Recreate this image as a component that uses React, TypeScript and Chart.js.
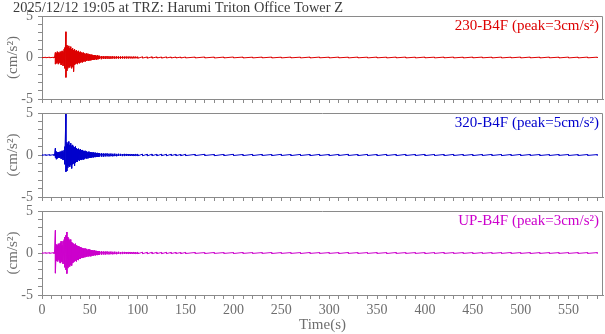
import React, { useEffect, useRef } from "react";
import { Chart, registerables } from "chart.js";

Chart.register(...registerables);

const TITLE = "2025/12/12 19:05 at TRZ: Harumi Triton Office Tower Z";
const X_TITLE = "Time(s)";
const Y_TITLE = "(cm/s²)";
const X_MIN = 0;
const X_MAX = 586;
const Y_MIN = -5;
const Y_MAX = 5;
const X_LABEL_STEP = 50;
const Y_LABEL_STEP = 5;

// bin centre times (s); each bin holds the max and min of the trace
const times = [
  0, 4, 8, 12,
  13, 14, 15, 16, 17, 18, 19, 20, 21, 22,
  23, 24, 25, 26, 27, 28, 29, 30, 31, 32,
  33, 34, 35, 36, 37, 38, 39, 40, 41, 42,
  43, 44, 45, 46, 47, 48, 49, 50, 51, 52,
  53, 54, 55, 56, 57, 58, 59, 60,
  62, 64, 66, 68, 70, 72, 74, 76, 78, 80,
  82, 84, 86, 88, 90, 92, 94, 96, 98, 100,
  105, 110, 115, 120, 125, 130, 135, 140, 145, 150,
  160, 170, 180, 190, 200, 210, 220, 230, 240, 250,
  260, 270, 280, 290, 300, 310, 320, 330, 340, 350,
  360, 370, 380, 390, 400, 410, 420, 430, 440, 450,
  460, 470, 480, 490, 500, 510, 520, 530, 540, 550,
  560, 570, 580,
];

const ch230Max = [
  0.03, 0.03, 0.04, 0.03,
  0.05, 0.6, 0.5, 0.7, 0.6, 0.5, 0.7, 0.6, 0.8, 0.7,
  1.0, 1.2, 3.1, 1.5, 1.3, 1.4, 1.1, 1.3, 1.0, 1.1,
  0.9, 1.0, 0.8, 0.9, 0.7, 0.8, 0.6, 0.7, 0.6, 0.5,
  0.6, 0.5, 0.4, 0.5, 0.4, 0.45, 0.35, 0.4, 0.3, 0.35,
  0.3, 0.25, 0.3, 0.25, 0.2, 0.25, 0.2, 0.2,
  0.18, 0.17, 0.15, 0.16, 0.14, 0.13, 0.14, 0.12, 0.13, 0.12,
  0.11, 0.12, 0.1, 0.11, 0.1, 0.1, 0.09, 0.1, 0.09, 0.08,
  0.08, 0.07, 0.08, 0.07, 0.06, 0.07, 0.06, 0.06, 0.05, 0.06,
  0.05, 0.06, 0.05, 0.05, 0.06, 0.05, 0.04, 0.05, 0.05, 0.04,
  0.05, 0.04, 0.05, 0.05, 0.04, 0.05, 0.04, 0.05, 0.04, 0.05,
  0.04, 0.05, 0.05, 0.04, 0.05, 0.04, 0.05, 0.05, 0.04, 0.05,
  0.05, 0.04, 0.05, 0.04, 0.05, 0.05, 0.04, 0.05, 0.04, 0.05,
  0.04, 0.05, 0.04,
];
const ch230Min = [
  -0.03, -0.03, -0.03, -0.04,
  -0.05, -0.8, -0.7, -0.6, -0.8, -0.6, -0.7, -0.9, -0.7, -1.0,
  -1.2, -1.3, -2.4, -1.6, -1.3, -1.1, -1.2, -1.0, -1.3, -1.1,
  -1.7, -0.9, -0.8, -0.7, -0.8, -0.6, -0.7, -0.6, -0.5, -0.6,
  -0.5, -0.4, -0.5, -0.4, -0.4, -0.35, -0.4, -0.3, -0.35, -0.3,
  -0.25, -0.3, -0.25, -0.2, -0.25, -0.2, -0.2, -0.18,
  -0.2, -0.15, -0.17, -0.14, -0.15, -0.14, -0.12, -0.13, -0.11, -0.12,
  -0.12, -0.1, -0.11, -0.1, -0.1, -0.09, -0.1, -0.09, -0.08, -0.09,
  -0.07, -0.08, -0.07, -0.06, -0.07, -0.06, -0.06, -0.05, -0.06, -0.05,
  -0.05, -0.05, -0.06, -0.05, -0.04, -0.05, -0.05, -0.04, -0.05, -0.05,
  -0.04, -0.05, -0.05, -0.04, -0.05, -0.04, -0.05, -0.04, -0.05, -0.04,
  -0.05, -0.04, -0.05, -0.05, -0.04, -0.05, -0.04, -0.05, -0.05, -0.04,
  -0.04, -0.05, -0.05, -0.04, -0.05, -0.04, -0.05, -0.04, -0.05, -0.05,
  -0.05, -0.04, -0.05,
];

const ch320Max = [
  0.04, 0.03, 0.04, 0.04,
  0.05, 0.8, 0.4, 0.3, 0.35, 0.3, 0.4, 0.35, 0.5, 0.4,
  0.6, 1.0, 5.0, 1.5, 1.3, 1.6, 1.2, 1.4, 1.1, 1.2,
  1.0, 0.9, 1.0, 0.8, 0.7, 0.75, 0.6, 0.7, 0.55, 0.6,
  0.5, 0.45, 0.5, 0.4, 0.45, 0.35, 0.4, 0.3, 0.35, 0.3,
  0.28, 0.3, 0.25, 0.27, 0.22, 0.25, 0.2, 0.22,
  0.2, 0.18, 0.17, 0.18, 0.15, 0.16, 0.14, 0.15, 0.13, 0.14,
  0.13, 0.12, 0.13, 0.11, 0.12, 0.1, 0.11, 0.1, 0.11, 0.1,
  0.1, 0.09, 0.1, 0.08, 0.09, 0.08, 0.09, 0.08, 0.07, 0.08,
  0.07, 0.08, 0.06, 0.07, 0.08, 0.06, 0.07, 0.07, 0.06, 0.08,
  0.06, 0.07, 0.06, 0.07, 0.06, 0.07, 0.08, 0.06, 0.07, 0.06,
  0.07, 0.06, 0.07, 0.06, 0.07, 0.06, 0.06, 0.07, 0.06, 0.06,
  0.06, 0.07, 0.06, 0.06, 0.07, 0.06, 0.06, 0.05, 0.06, 0.06,
  0.05, 0.06, 0.05,
];
const ch320Min = [
  -0.03, -0.04, -0.04, -0.03,
  -0.05, -0.3, -0.5, -0.4, -0.3, -0.35, -0.3, -0.45, -0.4, -0.6,
  -0.8, -1.1, -2.0, -1.9, -1.5, -1.3, -1.4, -1.2, -1.6, -1.1,
  -1.0, -1.3, -0.9, -0.8, -0.8, -0.6, -0.7, -0.55, -0.6, -0.5,
  -0.55, -0.5, -0.4, -0.45, -0.35, -0.4, -0.3, -0.35, -0.3, -0.3,
  -0.25, -0.28, -0.22, -0.25, -0.2, -0.22, -0.2, -0.18,
  -0.18, -0.19, -0.16, -0.15, -0.16, -0.14, -0.15, -0.13, -0.14, -0.12,
  -0.12, -0.13, -0.11, -0.12, -0.1, -0.11, -0.1, -0.11, -0.09, -0.1,
  -0.09, -0.1, -0.08, -0.09, -0.08, -0.09, -0.07, -0.08, -0.08, -0.07,
  -0.07, -0.06, -0.08, -0.07, -0.06, -0.07, -0.07, -0.06, -0.07, -0.06,
  -0.07, -0.06, -0.07, -0.06, -0.07, -0.06, -0.06, -0.07, -0.06, -0.07,
  -0.06, -0.07, -0.06, -0.06, -0.07, -0.06, -0.07, -0.06, -0.06, -0.07,
  -0.06, -0.06, -0.07, -0.06, -0.06, -0.05, -0.06, -0.06, -0.05, -0.06,
  -0.06, -0.05, -0.05,
];

const chUpMax = [
  0.03, 0.03, 0.03, 0.04,
  0.05, 2.7, 1.0, 0.9, 1.1, 1.0, 1.2, 1.4, 0.9, 1.4,
  1.6, 1.9, 2.1, 2.5, 1.9, 1.7, 1.5, 1.6, 1.3, 1.2,
  1.1, 1.0, 1.1, 0.9, 0.85, 0.8, 0.75, 0.7, 0.65, 0.6,
  0.55, 0.5, 0.55, 0.45, 0.5, 0.4, 0.45, 0.4, 0.35, 0.35,
  0.3, 0.28, 0.3, 0.25, 0.25, 0.22, 0.2, 0.22,
  0.2, 0.18, 0.17, 0.18, 0.15, 0.16, 0.14, 0.15, 0.13, 0.14,
  0.12, 0.13, 0.11, 0.12, 0.1, 0.11, 0.1, 0.11, 0.09, 0.1,
  0.09, 0.08, 0.09, 0.08, 0.07, 0.08, 0.07, 0.07, 0.06, 0.07,
  0.06, 0.05, 0.06, 0.05, 0.05, 0.06, 0.05, 0.05, 0.06, 0.05,
  0.05, 0.05, 0.06, 0.05, 0.05, 0.05, 0.06, 0.05, 0.05, 0.05,
  0.05, 0.06, 0.05, 0.05, 0.05, 0.05, 0.06, 0.05, 0.05, 0.05,
  0.05, 0.05, 0.05, 0.06, 0.05, 0.05, 0.05, 0.05, 0.05, 0.05,
  0.05, 0.05, 0.05,
];
const chUpMin = [
  -0.03, -0.03, -0.04, -0.03,
  -0.05, -2.4, -0.9, -1.0, -0.8, -1.0, -1.2, -1.0, -1.1, -1.3,
  -1.5, -1.7, -2.0, -2.45, -1.8, -1.6, -1.6, -1.4, -1.5, -1.2,
  -1.1, -1.0, -0.9, -1.0, -0.8, -0.85, -0.7, -0.7, -0.6, -0.6,
  -0.55, -0.5, -0.5, -0.45, -0.45, -0.4, -0.4, -0.35, -0.4, -0.3,
  -0.3, -0.3, -0.25, -0.28, -0.22, -0.25, -0.22, -0.2,
  -0.19, -0.17, -0.18, -0.15, -0.16, -0.14, -0.15, -0.13, -0.14, -0.12,
  -0.13, -0.11, -0.12, -0.1, -0.11, -0.1, -0.1, -0.09, -0.1, -0.09,
  -0.08, -0.09, -0.08, -0.07, -0.08, -0.07, -0.07, -0.06, -0.07, -0.06,
  -0.05, -0.06, -0.05, -0.05, -0.06, -0.05, -0.05, -0.05, -0.06, -0.05,
  -0.05, -0.06, -0.05, -0.05, -0.05, -0.06, -0.05, -0.05, -0.05, -0.05,
  -0.06, -0.05, -0.05, -0.05, -0.06, -0.05, -0.05, -0.05, -0.05, -0.06,
  -0.05, -0.05, -0.05, -0.05, -0.05, -0.06, -0.05, -0.05, -0.05, -0.05,
  -0.05, -0.05, -0.05,
];

const panelLabels = [
  "230-B4F (peak=3cm/s²)",
  "320-B4F (peak=5cm/s²)",
  "UP-B4F (peak=3cm/s²)",
];
const panelColors = ["#dd0000", "#0000cc", "#cc00cc"];
const panelMax = [ch230Max, ch320Max, chUpMax];
const panelMin = [ch230Min, ch320Min, chUpMin];

// layout (pixels)
const W = 605;
const H = 334;
const PLOT_LEFT = 42;
const PLOT_RIGHT = 603;
const PANEL_TOPS = [16, 113, 211];
const PANEL_BOTTOMS = [99, 197, 295];

const FONT = "'Liberation Serif', 'DejaVu Serif', serif";
const AXIS = "#8a8a8a";
const TEXT = "#6e6e6e";
const TITLE_COLOR = "#3a3a3a";

function tracePoints(maxs: number[], mins: number[]) {
  const pts: { x: number; y: number }[] = [];
  times.forEach((t, i) => {
    pts.push({ x: t, y: maxs[i] });
    pts.push({ x: t, y: mins[i] });
  });
  return pts;
}

function makeChart(canvas: HTMLCanvasElement, idx: number) {
  const isLast = idx === 2;
  const xAxisH = isLast ? H - PANEL_BOTTOMS[idx] : 4;
  const color = panelColors[idx];
  const label = panelLabels[idx];

  const decor = {
    id: "decor" + idx,
    afterDraw(chart: any) {
      const { ctx, chartArea: a } = chart;
      ctx.save();
      ctx.strokeStyle = AXIS;
      ctx.lineWidth = 1;
      ctx.beginPath();
      ctx.moveTo(Math.round(a.left) + 0.5, Math.round(a.top) + 0.5);
      ctx.lineTo(Math.round(a.right) - 0.5, Math.round(a.top) + 0.5);
      ctx.lineTo(Math.round(a.right) - 0.5, Math.round(a.bottom) + 0.5);
      ctx.stroke();
      ctx.fillStyle = color;
      ctx.font = `15px ${FONT}`;
      ctx.textAlign = "right";
      ctx.textBaseline = "middle";
      ctx.fillText(label, a.right - 4, a.top + 10);
      if (idx === 0) {
        ctx.fillStyle = TITLE_COLOR;
        ctx.font = `14.4px ${FONT}`;
        ctx.textAlign = "left";
        ctx.fillText(TITLE, 13, 8);
      }
      ctx.restore();
    },
  };

  return new Chart(canvas, {
    type: "line",
    data: {
      datasets: [
        {
          data: tracePoints(panelMax[idx], panelMin[idx]),
          borderColor: color,
          borderWidth: 1,
          pointRadius: 0,
          tension: 0,
          fill: false,
        },
      ],
    },
    options: {
      animation: false,
      responsive: false,
      events: [],
      layout: {
        padding: {
          left: 0,
          right: W - PLOT_RIGHT,
          top: PANEL_TOPS[idx],
          bottom: H - PANEL_BOTTOMS[idx] - xAxisH,
        },
      },
      plugins: {
        legend: { display: false },
        tooltip: { enabled: false },
        title: { display: false },
      },
      scales: {
        x: {
          type: "linear",
          min: X_MIN,
          max: X_MAX,
          afterFit: (s: any) => {
            s.height = xAxisH;
          },
          ticks: {
            display: isLast,
            stepSize: 10,
            includeBounds: false,
            autoSkip: false,
            maxRotation: 0,
            padding: 3,
            color: TEXT,
            font: { family: FONT, size: 14 },
            callback: (v: any) => (Number(v) % X_LABEL_STEP === 0 ? String(v) : ""),
          },
          grid: { drawOnChartArea: false, drawTicks: true, tickLength: 4, color: AXIS },
          border: { display: true, color: AXIS },
          title: {
            display: isLast,
            text: X_TITLE,
            color: TEXT,
            font: { family: FONT, size: 15 },
            padding: { top: 0, bottom: 0 },
          },
        },
        y: {
          min: Y_MIN,
          max: Y_MAX,
          afterFit: (s: any) => {
            s.width = PLOT_LEFT;
          },
          ticks: {
            stepSize: 1,
            autoSkip: false,
            padding: 5,
            color: TEXT,
            font: { family: FONT, size: 14 },
            callback: (v: any) => (Number(v) % Y_LABEL_STEP === 0 ? String(v) : ""),
          },
          grid: { drawOnChartArea: false, drawTicks: true, tickLength: 4, color: AXIS },
          border: { display: true, color: AXIS },
          title: {
            display: true,
            text: Y_TITLE,
            color: TEXT,
            font: { family: FONT, size: 15 },
            padding: { top: 4, bottom: 0 },
          },
        },
      },
    },
    plugins: [decor],
  } as any);
}

export default function App() {
  const r0 = useRef<HTMLCanvasElement>(null);
  const r1 = useRef<HTMLCanvasElement>(null);
  const r2 = useRef<HTMLCanvasElement>(null);

  useEffect(() => {
    const refs = [r0, r1, r2];
    const charts = refs.map((r, i) => makeChart(r.current as HTMLCanvasElement, i));
    return () => charts.forEach((c) => c.destroy());
  }, []);

  const cs: React.CSSProperties = { position: "absolute", left: 0, top: 0, width: W, height: H };
  return (
    <div style={{ position: "fixed", left: 0, top: 0, width: W, height: H, background: "#fff" }}>
      <canvas ref={r0} width={W} height={H} style={cs} />
      <canvas ref={r1} width={W} height={H} style={cs} />
      <canvas ref={r2} width={W} height={H} style={cs} />
    </div>
  );
}
